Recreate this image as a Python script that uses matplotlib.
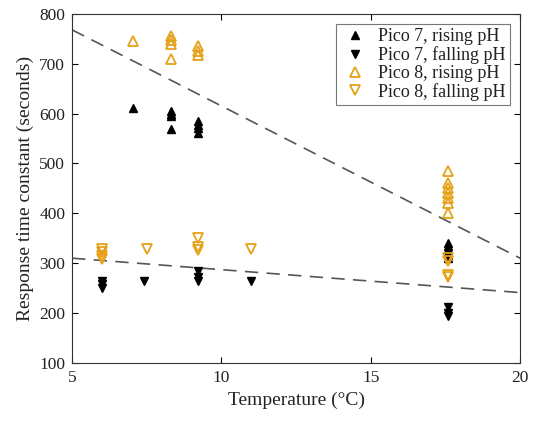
import numpy as np
import matplotlib.pyplot as plt

plt.rcParams['font.family'] = ['Liberation Serif', 'DejaVu Serif']

# Pico 7, rising pH
p7r_T = [7.05, 8.3, 8.3, 8.3, 8.3, 9.2, 9.2, 9.2, 9.2,
         17.6, 17.6, 17.6, 17.6, 17.6, 17.6]
p7r_y = [612, 605, 600, 595, 570, 585, 578, 572, 562,
         340, 335, 328, 322, 316, 310]
# Pico 7, falling pH
p7f_T = [6.0, 6.0, 6.0, 7.4, 9.2, 9.2, 9.2, 11.0, 17.6, 17.6, 17.6]
p7f_y = [265, 258, 250, 265, 285, 272, 265, 265, 212, 200, 195]
# Pico 8, rising pH
p8r_T = [7.05, 8.3, 8.3, 8.3, 8.3, 9.2, 9.2, 9.2,
         17.6, 17.6, 17.6, 17.6, 17.6, 17.6, 17.6]
p8r_y = [745, 755, 748, 740, 710, 735, 725, 718,
         485, 460, 450, 440, 430, 420, 400]
# Pico 8, falling pH
p8f_T = [6.0, 6.0, 6.0, 6.0, 7.5, 9.2, 9.2, 9.2, 11.0,
         17.6, 17.6, 17.6, 17.6]
p8f_y = [328, 322, 315, 308, 328, 350, 332, 327, 328,
         310, 305, 276, 272]

# dashed trend lines (end points)
fit_T = [5, 20]
fit_rise = [768, 310]
fit_fall = [310, 241]

orange = '#E5A117'
txt = '#222222'

fig = plt.figure(figsize=(5.34, 4.21), dpi=100)
ax = fig.add_axes([0.135, 0.138, 0.839, 0.829])

ax.plot(fit_T, fit_rise, color='#555555', lw=1.2, dashes=(8, 5))
ax.plot(fit_T, fit_fall, color='#555555', lw=1.2, dashes=(8, 5))

ax.plot(p7r_T, p7r_y, '^', color='black', ms=6, ls='none', label='Pico 7, rising pH')
ax.plot(p7f_T, p7f_y, 'v', color='black', ms=6, ls='none', label='Pico 7, falling pH')
ax.plot(p8r_T, p8r_y, '^', mfc='none', mec=orange, mew=1.3, ms=7, ls='none',
        label='Pico 8, rising pH')
ax.plot(p8f_T, p8f_y, 'v', mfc='none', mec=orange, mew=1.3, ms=7, ls='none',
        label='Pico 8, falling pH')

ax.set_xlim(5, 20)
ax.set_ylim(100, 800)
ax.set_xticks([5, 10, 15, 20])
ax.set_yticks(range(100, 801, 100))
ax.tick_params(direction='in', top=True, right=True, labelsize=12.5, length=4,
               labelcolor=txt, pad=5)
for s in ax.spines.values():
    s.set_color('#333333')
ax.set_xlabel('Temperature (°C)', fontsize=14, color=txt)
ax.set_ylabel('Response time constant (seconds)', fontsize=14, color=txt)

leg = ax.legend(loc='upper right', fontsize=13, frameon=True, fancybox=False,
                edgecolor='#555555', handletextpad=0.5, borderpad=0.25,
                labelspacing=0.05, handlelength=1.6, borderaxespad=0.55)
leg.get_frame().set_linewidth(0.8)
for t in leg.get_texts():
    t.set_color(txt)

fig.savefig('out.png', dpi=100)
